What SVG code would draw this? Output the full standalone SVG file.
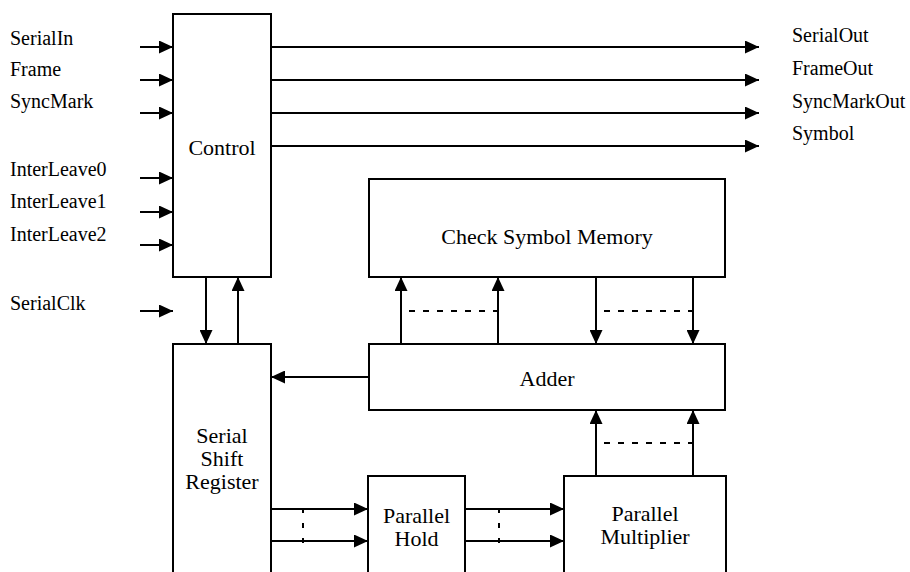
<svg xmlns="http://www.w3.org/2000/svg" width="910" height="572" viewBox="0 0 910 572">
  <defs>
    <marker id="arrow" markerUnits="userSpaceOnUse" markerWidth="14" markerHeight="13" refX="14" refY="6.5" orient="auto">
      <path d="M0,0 L14,6.5 L0,13 Z" fill="#000"/>
    </marker>
    <style>
      .box { fill: #fff; stroke: #000; stroke-width: 2; }
      text { font-family: 'Liberation Serif', 'DejaVu Serif', serif; fill: #000; }
      .lbl { font-size: 22px; text-anchor: middle; }
      .sig { font-size: 20px; }
      .wire { stroke: #000; stroke-width: 2; fill: none; }
      .arr { stroke: #000; stroke-width: 2; fill: none; marker-end: url(#arrow); }
      .dash { stroke: #000; stroke-width: 2; fill: none; stroke-dasharray: 6 8; }
      .vdash { stroke: #000; stroke-width: 2; fill: none; stroke-dasharray: 5 10; }
    </style>
  </defs>
  <rect width="910" height="572" fill="#fff"/>

  <g id="signal-labels" font-family="Liberation Serif, serif">
    <text class="sig" x="10" y="45">SerialIn</text>
    <text class="sig" x="10" y="76">Frame</text>
    <text class="sig" x="10" y="108">SyncMark</text>
    <text class="sig" x="10" y="176">InterLeave0</text>
    <text class="sig" x="10" y="208">InterLeave1</text>
    <text class="sig" x="10" y="241">InterLeave2</text>
    <text class="sig" x="10" y="310">SerialClk</text>
    <text class="sig" x="792" y="42">SerialOut</text>
    <text class="sig" x="792" y="75">FrameOut</text>
    <text class="sig" x="792" y="108">SyncMarkOut</text>
    <text class="sig" x="792" y="140">Symbol</text>
  </g>

  <g id="connectors">
    <line class="arr" x1="140" y1="47" x2="173" y2="47"/>
    <line class="arr" x1="140" y1="80" x2="173" y2="80"/>
    <line class="arr" x1="140" y1="113" x2="173" y2="113"/>
    <line class="arr" x1="140" y1="178" x2="173" y2="178"/>
    <line class="arr" x1="140" y1="212" x2="173" y2="212"/>
    <line class="arr" x1="140" y1="245" x2="173" y2="245"/>
    <line class="arr" x1="140" y1="311" x2="173" y2="311"/>

    <line class="arr" x1="271" y1="47" x2="759" y2="47"/>
    <line class="arr" x1="271" y1="80" x2="759" y2="80"/>
    <line class="arr" x1="271" y1="113" x2="759" y2="113"/>
    <line class="arr" x1="271" y1="146" x2="759" y2="146"/>

    <line class="arr" x1="206" y1="277" x2="206" y2="344"/>
    <line class="arr" x1="238" y1="344" x2="238" y2="277"/>

    <line class="arr" x1="401" y1="344" x2="401" y2="277"/>
    <line class="arr" x1="498" y1="344" x2="498" y2="277"/>
    <line class="arr" x1="596" y1="277" x2="596" y2="344"/>
    <line class="arr" x1="693" y1="277" x2="693" y2="344"/>
    <line class="dash" x1="409" y1="311" x2="498" y2="311"/>
    <line class="dash" x1="604" y1="311" x2="693" y2="311"/>

    <line class="arr" x1="369" y1="377" x2="271" y2="377"/>

    <line class="arr" x1="271" y1="509" x2="368" y2="509"/>
    <line class="arr" x1="271" y1="541" x2="368" y2="541"/>
    <line class="vdash" x1="303" y1="508" x2="303" y2="543"/>

    <line class="arr" x1="465" y1="509" x2="564" y2="509"/>
    <line class="arr" x1="465" y1="541" x2="564" y2="541"/>
    <line class="vdash" x1="499" y1="508" x2="499" y2="543"/>

    <line class="arr" x1="596" y1="476" x2="596" y2="410"/>
    <line class="arr" x1="693" y1="476" x2="693" y2="410"/>
    <line class="dash" x1="604" y1="443" x2="693" y2="443"/>
  </g>

  <g id="control">
    <rect class="box" x="173" y="14" width="98" height="263"/>
    <text class="lbl" x="222" y="155">Control</text>
  </g>
  <g id="check-symbol-memory">
    <rect class="box" x="369" y="179" width="356" height="98"/>
    <text class="lbl" x="547" y="244">Check Symbol Memory</text>
  </g>
  <g id="adder">
    <rect class="box" x="369" y="344" width="356" height="66"/>
    <text class="lbl" x="547" y="386">Adder</text>
  </g>
  <g id="serial-shift-register">
    <rect class="box" x="173" y="344" width="98" height="240"/>
    <text class="lbl" x="222" y="443">Serial</text>
    <text class="lbl" x="222" y="466">Shift</text>
    <text class="lbl" x="222" y="489">Register</text>
  </g>
  <g id="parallel-hold">
    <rect class="box" x="368" y="476" width="97" height="110"/>
    <text class="lbl" x="416.5" y="523">Parallel</text>
    <text class="lbl" x="416.5" y="546">Hold</text>
  </g>
  <g id="parallel-multiplier">
    <rect class="box" x="564" y="476" width="162" height="110"/>
    <text class="lbl" x="645" y="521">Parallel</text>
    <text class="lbl" x="645" y="544">Multiplier</text>
  </g>
</svg>
